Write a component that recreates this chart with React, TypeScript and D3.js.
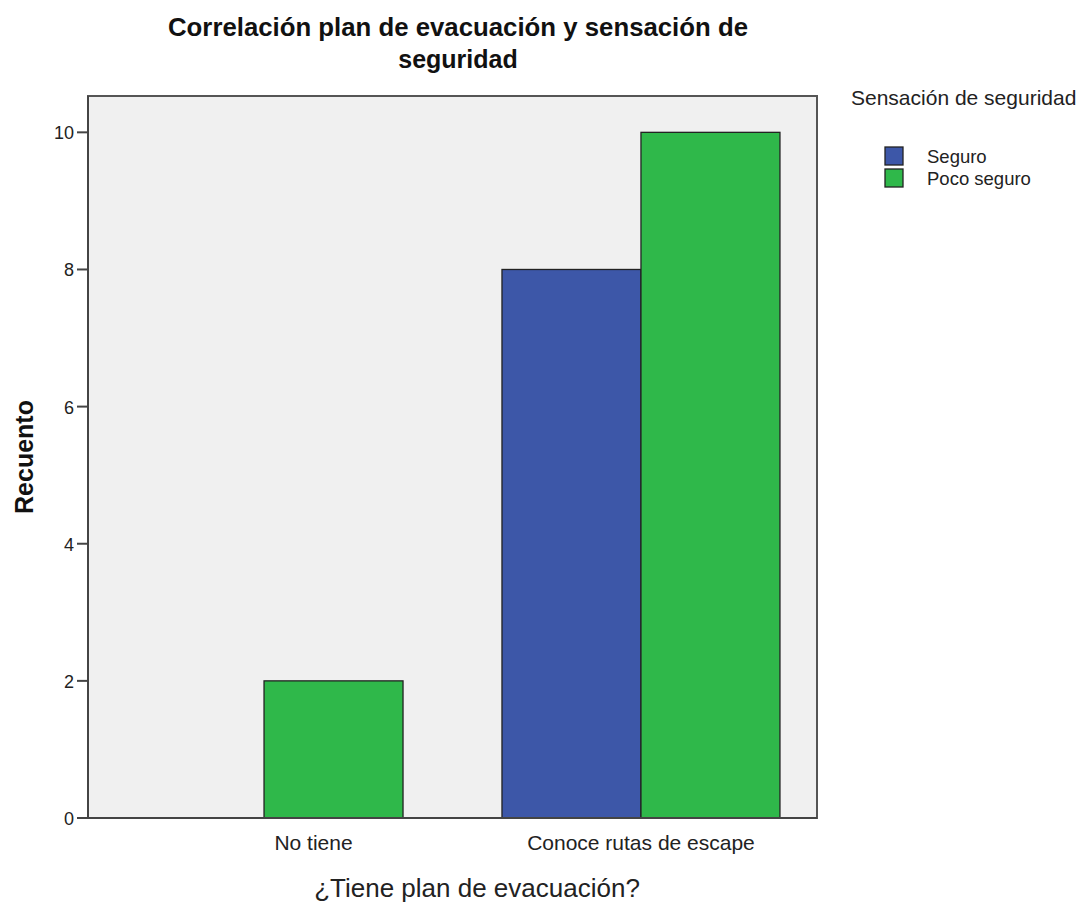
import React from "react";
import * as d3 from "d3";

// data
const categories = ["No tiene", "Conoce rutas de escape"];
const seriesNames = ["Seguro", "Poco seguro"];
const seguro = [0, 8];
const pocoSeguro = [2, 10];
const yTicks = [0, 2, 4, 6, 8, 10];

const colors = ["#3d57a8", "#2fb84a"];

export default function App() {
  const width = 1091;
  const height = 908;
  const plot = { left: 88, top: 96, right: 817, bottom: 818 };

  const values = [seguro, pocoSeguro];

  const x = d3
    .scaleBand<string>()
    .domain(categories)
    .range([plot.left, plot.right])
    .paddingInner(0)
    .paddingOuter(-0.033);

  const inner = d3
    .scaleBand<string>()
    .domain(seriesNames)
    .range([0, x.bandwidth()])
    .paddingOuter(0.356);

  const y = d3.scaleLinear().domain([0, 10.53]).range([plot.bottom, plot.top]);

  const font = "Liberation Sans, Arial, sans-serif";

  // label sits under the bars that are actually drawn
  const labelX = (c: string, ci: number) => {
    const xs = seriesNames
      .filter((_, si) => values[si][ci] > 0)
      .map((s) => (x(c) as number) + (inner(s) as number) + inner.bandwidth() / 2);
    return d3.mean(xs) as number;
  };

  return (
    <svg
      width={width}
      height={height}
      style={{ position: "absolute", left: 0, top: 0, background: "#fff" }}
      fontFamily={font}
    >
      {/* title */}
      <text
        x={458}
        y={36}
        textAnchor="middle"
        fontSize={25}
        fontWeight="bold"
        fill="#111"
        textLength={580}
        lengthAdjust="spacingAndGlyphs"
      >
        Correlación plan de evacuación y sensación de
      </text>
      <text x={458} y={68} textAnchor="middle" fontSize={25} fontWeight="bold" fill="#111">
        seguridad
      </text>

      {/* plot background */}
      <rect
        x={plot.left}
        y={plot.top}
        width={plot.right - plot.left}
        height={plot.bottom - plot.top}
        fill="#f0f0f0"
        stroke="#555"
        strokeWidth={2}
      />

      {/* bars */}
      {categories.map((c, ci) =>
        seriesNames.map((s, si) => {
          const v = values[si][ci];
          if (v <= 0) return null;
          return (
            <rect
              key={c + s}
              x={(x(c) as number) + (inner(s) as number)}
              y={y(v)}
              width={inner.bandwidth()}
              height={y(0) - y(v)}
              fill={colors[si]}
              stroke="#222"
              strokeWidth={1.3}
            />
          );
        })
      )}

      {/* axes lines */}
      <line x1={plot.left} x2={plot.right} y1={plot.bottom} y2={plot.bottom} stroke="#444" strokeWidth={2} />
      <line x1={plot.left} x2={plot.left} y1={plot.top} y2={plot.bottom} stroke="#444" strokeWidth={2} />

      {/* y ticks */}
      {yTicks.map((t) => (
        <g key={t}>
          <line x1={plot.left - 11} x2={plot.left} y1={y(t)} y2={y(t)} stroke="#444" strokeWidth={2} />
          <text x={plot.left - 14} y={y(t) + 7} textAnchor="end" fontSize={18} fill="#222">
            {t}
          </text>
        </g>
      ))}

      {/* x tick labels */}
      {categories.map((c, ci) => (
        <text key={c} x={labelX(c, ci) - 20 * (1 - ci)} y={850} textAnchor="middle" fontSize={21} fill="#222">
          {c}
        </text>
      ))}

      {/* axis titles */}
      <text
        transform={`translate(33,${(plot.top + plot.bottom) / 2}) rotate(-90)`}
        textAnchor="middle"
        fontSize={25}
        fontWeight="bold"
        fill="#111"
      >
        Recuento
      </text>
      <text x={477} y={897} textAnchor="middle" fontSize={26} fill="#222">
        ¿Tiene plan de evacuación?
      </text>

      {/* legend */}
      <text x={851} y={105} fontSize={21} fill="#222">
        Sensación de seguridad
      </text>
      {seriesNames.map((s, si) => (
        <g key={s} transform={`translate(885,${147 + si * 22})`}>
          <rect width={18} height={18} fill={colors[si]} stroke="#222" strokeWidth={1.3} />
          <text x={42} y={16} fontSize={18.5} fill="#222">
            {s}
          </text>
        </g>
      ))}
    </svg>
  );
}
